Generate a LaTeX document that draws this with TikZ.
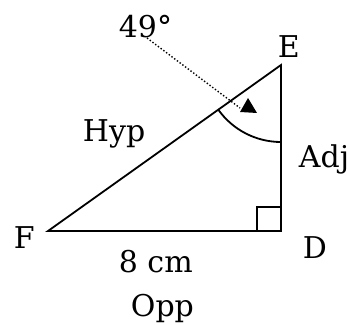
\documentclass[tikz,border=0pt]{standalone}
\usepackage{fontspec}
\setmainfont{DejaVu Serif}
\begin{document}
\begin{tikzpicture}[x=1pt,y=1pt,line width=1.8pt,
    lbl/.style={anchor=base west,inner sep=0pt,font=\fontsize{30}{34}\selectfont}]
    \useasboundingbox (0,0) rectangle (350,324);
    % corners
    \coordinate (F) at (48,93);
    \coordinate (D) at (281,93);
    \coordinate (E) at (281,259);
    \draw (F) -- (D) -- (E) -- cycle;
    \draw ([xshift=-24pt]D) |- ([yshift=24pt]D);
    \draw (E) ++(215.5:77) arc[start angle=215.5,end angle=270,radius=77];
    % angle pointer
    \coordinate (tail) at (147,286);
    \coordinate (head) at (240,216);
    \draw[dotted,line width=1.4pt] (tail) -- (head);
    \fill (head) ++(0,-4) -- ++(8,14) -- ++(9,-15) -- cycle;
    % labels
    \node[lbl] (ang) at (118,286) {49°};
    \node[lbl] (lE) at (277,266) {E};
    \node[lbl] (lF) at (13,76) {F};
    \node[lbl] (lD) at (302,66) {D};
    \node[lbl] (hyp) at (82,182) {Hyp};
    \node[lbl] (adj) at (298,156) {Adj};
    \node[lbl] (len) at (118,52) {8 cm};
    \node[lbl] (opp) at (130,8) {Opp};
\end{tikzpicture}
\end{document}
